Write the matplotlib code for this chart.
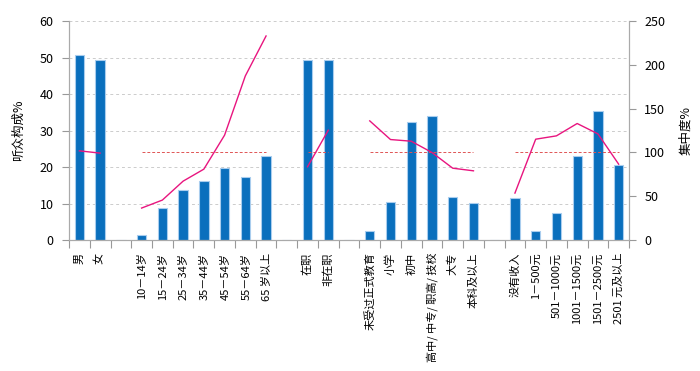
import matplotlib.pyplot as plt
import numpy as np

plt.rcParams['font.family'] = ['Noto Sans CJK SC', 'DejaVu Sans']

# categories, '' = gap between groups
labels = ['男', '女', '',
          '10－14岁', '15－24岁', '25－34岁', '35－44岁', '45－54岁', '55－64岁', '65 岁以上', '',
          '在职', '非在职', '',
          '未受过正式教育', '小学', '初中', '高中/ 中专/ 职高/ 技校', '大专', '本科及以上', '',
          '没有收入', '1－500元', '501－1000元', '1001－1500元', '1501－2500元', '2501 元及以上']

# 听众构成% (left axis)
share = [50.8, 49.3, np.nan,
         1.5, 8.8, 13.7, 16.2, 19.6, 17.4, 23.0, np.nan,
         49.3, 49.3, np.nan,
         2.4, 10.4, 32.4, 33.9, 11.8, 10.1, np.nan,
         11.5, 2.4, 7.5, 22.9, 35.4, 20.6]

# 集中度% (right axis)
conc = [101.8, 99.2, np.nan,
        36.5, 45.6, 67.2, 80.9, 119.7, 187.3, 232.9, np.nan,
        83.6, 125.4, np.nan,
        136.0, 114.7, 112.8, 99.9, 82.0, 79.0, np.nan,
        53.6, 115.1, 118.9, 133.0, 121.2, 86.6]

# groups that get the dashed 100 reference line
groups = [(3, 9), (11, 12), (14, 19), (21, 26)]
ref_level = 100

x = np.arange(len(labels))
fig = plt.figure(figsize=(7, 3.71), dpi=100)
ax = fig.add_axes([0.0986, 0.353, 0.80, 0.5904])
ax2 = ax.twinx()

ax.bar(x, np.nan_to_num(share), width=0.45, color='#0a6fbd', edgecolor='#a9cdee', linewidth=0.8, zorder=2)
ax.set_xlim(-0.5, len(labels) - 0.5)
ax.set_ylim(0, 60)
ax.set_yticks(np.arange(0, 61, 10))
ax.yaxis.grid(True, color='#cccccc', linestyle=(0, (3, 3)), linewidth=0.7)
ax.set_axisbelow(True)

ax.set_xticks(np.arange(-0.5, len(labels), 1))
ax.set_xticklabels([])
ax.set_xticks(x, minor=True)
ax.set_xticklabels(labels, minor=True, rotation=90, fontsize=8, va='top')
ax.tick_params(axis='x', which='minor', length=0, pad=9)
ax.tick_params(axis='x', which='major', length=6, color='#999999')
ax.tick_params(axis='y', length=5, color='#999999', labelsize=9, pad=6)

for a in (ax, ax2):
    a.spines['top'].set_visible(False)
    for sp in ['left', 'right', 'bottom']:
        a.spines[sp].set_color('#aaaaaa')

ax2.plot(x, conc, color='#e8157f', linewidth=1.0, zorder=3)
for g0, g1 in groups:
    ax2.plot([g0, g1], [ref_level, ref_level], color='#e05555', linestyle=(0, (3, 2)), linewidth=0.7, zorder=2)
ax2.set_ylim(0, 250)
ax2.set_yticks(np.arange(0, 251, 50))
ax2.tick_params(axis='y', length=5, color='#999999', labelsize=9, pad=6)

ax.set_ylabel('听众构成%', fontsize=9, labelpad=11)
ax2.set_ylabel('集中度%', fontsize=9, labelpad=10)

fig.savefig('out.png', dpi=100)
